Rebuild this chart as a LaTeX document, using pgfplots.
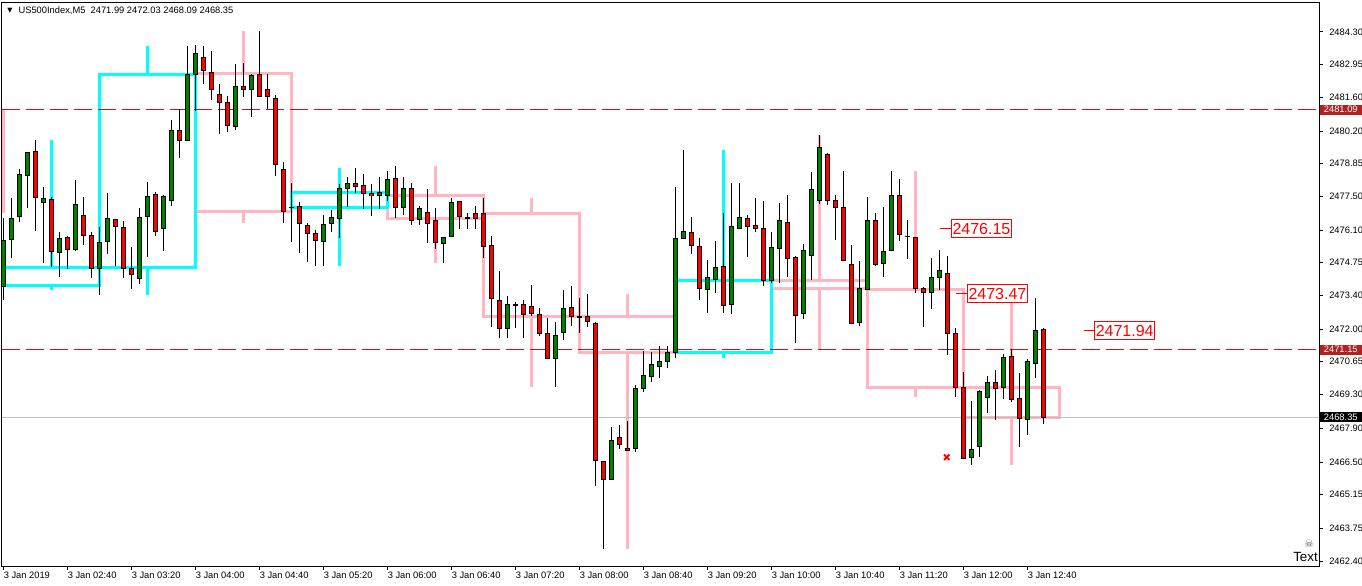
\documentclass[border=0pt]{standalone}
\usepackage{pgfplots}
\pgfplotsset{compat=1.18}
\usepackage{pgfplotstable}
\usepackage{fontspec}
\setmainfont{Liberation Sans}
\newfontfamily\dejavu{DejaVu Sans}
\definecolor{cgreen}{RGB}{0,128,0}
\definecolor{cred}{RGB}{255,0,0}
\definecolor{hcyan}{RGB}{0,255,255}
\definecolor{hpink}{RGB}{255,182,193}
\definecolor{tagred}{RGB}{178,34,34}
\definecolor{dashred}{RGB}{200,20,20}
\definecolor{bidgray}{RGB}{192,192,192}

\pgfplotstableread{
k O H L C
0 2473.79 2476.60 2473.21 2475.69
1 2475.72 2477.42 2474.93 2476.59
2 2476.66 2478.62 2476.45 2478.41
3 2478.37 2479.33 2477.03 2479.32
4 2479.38 2479.83 2476.08 2477.46
5 2477.25 2477.87 2474.75 2477.42
6 2477.39 2477.48 2474.59 2475.22
7 2475.18 2476.02 2474.17 2475.76
8 2475.80 2475.86 2474.50 2475.31
9 2475.31 2478.18 2475.25 2477.17
10 2476.71 2477.47 2475.48 2475.89
11 2475.89 2476.02 2474.13 2474.53
12 2474.52 2476.23 2473.43 2475.60
13 2475.64 2477.65 2475.12 2476.59
14 2476.55 2476.55 2474.62 2476.24
15 2476.22 2476.48 2474.13 2474.52
16 2474.52 2475.40 2473.68 2474.27
17 2474.11 2477.02 2473.87 2476.63
18 2476.67 2478.09 2475.00 2477.50
19 2477.58 2477.68 2475.87 2476.05
20 2476.16 2477.55 2475.25 2477.50
21 2477.32 2480.66 2477.11 2480.24
22 2480.24 2481.10 2479.10 2479.80
23 2479.80 2483.72 2479.80 2482.56
24 2482.55 2483.76 2481.04 2483.42
25 2483.25 2483.72 2482.14 2482.72
26 2482.63 2483.51 2481.49 2481.91
27 2481.72 2482.15 2480.09 2481.39
28 2481.39 2481.65 2480.17 2480.42
29 2480.40 2482.98 2480.24 2482.05
30 2482.05 2483.02 2481.62 2481.91
31 2481.95 2482.56 2480.79 2482.52
32 2482.56 2484.34 2481.66 2481.66
33 2481.93 2482.55 2481.13 2481.66
34 2481.56 2481.69 2478.35 2478.82
35 2478.62 2478.91 2476.41 2476.86
36 2477.04 2478.05 2475.62 2477.04
37 2477.09 2477.28 2475.14 2476.38
38 2476.30 2476.41 2474.77 2475.97
39 2475.97 2476.11 2474.62 2475.68
40 2475.64 2476.71 2474.62 2476.34
41 2476.38 2476.92 2476.02 2476.63
42 2476.59 2478.01 2475.76 2477.83
43 2477.83 2478.29 2477.04 2478.04
44 2478.04 2478.66 2477.65 2477.91
45 2477.96 2478.42 2476.99 2477.62
46 2477.62 2478.01 2476.70 2477.54
47 2477.54 2478.29 2476.96 2477.67
48 2477.54 2478.55 2477.32 2478.20
49 2478.24 2478.75 2476.60 2477.04
50 2477.04 2478.29 2476.73 2477.83
51 2477.83 2478.06 2476.32 2476.51
52 2476.55 2477.10 2476.32 2477.00
53 2476.84 2477.79 2475.58 2476.38
54 2476.51 2477.00 2475.31 2475.60
55 2475.55 2475.80 2474.75 2475.80
56 2475.84 2477.42 2475.80 2477.25
57 2477.29 2477.29 2476.13 2476.67
58 2476.63 2476.79 2476.13 2476.63
59 2476.79 2477.09 2476.13 2476.59
60 2476.79 2477.42 2474.96 2475.43
61 2475.47 2475.84 2472.10 2473.28
62 2473.20 2474.40 2471.62 2472.04
63 2472.04 2473.36 2471.62 2473.03
64 2473.03 2473.11 2472.04 2473.03
65 2473.03 2473.20 2471.62 2472.62
66 2472.95 2473.82 2472.53 2472.66
67 2472.62 2472.86 2471.71 2471.83
68 2471.83 2472.45 2470.80 2470.80
69 2470.80 2472.28 2469.62 2471.75
70 2471.87 2473.61 2471.54 2472.86
71 2472.90 2473.78 2472.12 2472.53
72 2472.52 2473.28 2471.83 2472.52
73 2472.53 2473.44 2472.08 2472.33
74 2472.24 2472.28 2465.52 2466.57
75 2466.53 2466.53 2462.89 2465.79
76 2465.79 2467.96 2465.79 2467.40
77 2467.52 2468.02 2467.03 2467.23
78 2467.07 2468.19 2466.99 2466.99
79 2467.07 2469.68 2466.93 2469.55
80 2469.55 2471.11 2469.39 2470.09
81 2470.05 2471.04 2469.80 2470.55
82 2470.46 2471.29 2469.97 2470.67
83 2470.67 2471.29 2470.38 2471.04
84 2471.04 2477.87 2470.80 2475.76
85 2475.76 2479.40 2475.76 2476.05
86 2476.01 2476.63 2475.12 2475.47
87 2475.43 2475.76 2473.22 2473.69
88 2473.65 2474.85 2472.66 2474.15
89 2474.06 2475.64 2473.49 2474.56
90 2474.60 2476.79 2472.66 2472.99
91 2473.03 2478.04 2472.62 2476.26
92 2476.18 2478.04 2476.18 2476.63
93 2476.59 2476.71 2474.97 2476.26
94 2476.30 2477.42 2476.01 2476.18
95 2476.18 2477.29 2473.78 2474.02
96 2474.02 2476.01 2473.92 2475.39
97 2475.35 2477.21 2473.92 2476.51
98 2476.42 2477.54 2474.15 2474.93
99 2474.97 2475.02 2471.41 2472.57
100 2472.66 2475.51 2472.41 2475.26
101 2475.06 2478.49 2474.02 2477.79
102 2477.33 2480.02 2477.18 2479.53
103 2479.24 2479.28 2477.13 2477.33
104 2477.33 2477.54 2475.68 2477.04
105 2477.04 2478.54 2474.81 2474.85
106 2474.69 2475.47 2472.24 2472.24
107 2472.28 2474.81 2472.12 2473.69
108 2473.65 2477.46 2473.65 2476.51
109 2476.51 2476.79 2474.60 2474.69
110 2474.73 2477.04 2474.15 2475.22
111 2475.26 2478.54 2475.26 2477.54
112 2477.54 2478.20 2475.64 2475.93
113 2475.86 2476.51 2474.89 2475.86
114 2475.80 2475.80 2473.49 2473.69
115 2473.68 2473.73 2472.10 2473.53
116 2473.53 2474.93 2472.82 2474.15
117 2474.15 2475.26 2473.61 2474.44
118 2474.31 2475.02 2470.92 2471.83
119 2471.83 2472.04 2469.18 2469.59
120 2469.59 2470.22 2466.68 2466.68
121 2466.70 2469.03 2466.38 2467.04
122 2467.13 2469.47 2466.72 2469.43
123 2469.18 2470.05 2468.54 2469.80
124 2469.80 2470.30 2468.25 2469.55
125 2469.59 2470.96 2469.10 2470.84
126 2470.88 2471.17 2468.99 2469.10
127 2469.14 2470.17 2467.13 2468.31
128 2468.27 2470.75 2467.63 2470.67
129 2470.59 2473.28 2469.97 2471.95
130 2471.99 2472.03 2468.09 2468.35
}\candles

\pgfplotsset{
  hbox/.style={line width=2.25pt},
  wick/.style={line width=2.25pt, unbounded coords=jump},
  ebars/.style={draw=none, mark=none, error bars/.cd, y dir=both, y explicit, error mark=none},
}

\begin{document}
\begin{tikzpicture}
\useasboundingbox (-1.5pt,-14.25pt) rectangle (1020pt,424.5pt);
\begin{axis}[
  at={(0pt,0pt)}, anchor=south west,
  x=6pt, y=18.12pt,
  xmin=-0.1875, xmax=164.4375, ymin=2462.197, ymax=2485.50,
  clip=false,
  axis line style={black, line width=0.75pt},
  xtick pos=left, ytick pos=right, yticklabel pos=right,
  tick align=outside, major tick length=3pt,
  tick style={black, line width=0.75pt},
  scaled y ticks=false, scaled x ticks=false,
  xtick={0,8,...,128},
  xticklabels={3 Jan 2019,3 Jan 02:40,3 Jan 03:20,3 Jan 04:00,3 Jan 04:40,3 Jan 05:20,3 Jan 06:00,3 Jan 06:40,3 Jan 07:20,3 Jan 08:00,3 Jan 08:40,3 Jan 09:20,3 Jan 10:00,3 Jan 10:40,3 Jan 11:20,3 Jan 12:00,3 Jan 12:40},
  ytick={2462.40,2463.75,2465.15,2466.50,2467.90,2469.30,2470.65,2472.00,2473.40,2474.75,2476.10,2477.50,2478.85,2480.20,2481.60,2482.95,2484.30},
  yticklabels={2462.40,2463.75,2465.15,2466.50,2467.90,2469.30,2470.65,2472.00,2473.40,2474.75,2476.10,2477.50,2478.85,2480.20,2481.60,2482.95,2484.30},
  ticklabel style={font=\fontsize{7}{8}\selectfont},
  xticklabel style={anchor=north west, inner sep=0pt, yshift=-1.2pt},
  yticklabel style={anchor=west, inner sep=0pt, xshift=4.5pt},
]
% ---- H1 overlay: previous hour edge (pink) at the left border
\addplot[hpink, line width=2pt] coordinates {(0,2481.09) (0,2476.80)};
% ---- H1 overlay: bearish hours (pink)
\addplot[hpink, hbox] coordinates {(30,2482.59) (36,2482.59) (36,2476.89) (24,2476.89) (24,2482.59) (30,2482.59)};
\addplot[hpink, wick] coordinates {(30,2484.34) (30,2482.59) (30,nan) (30,2476.89) (30,2476.41)};
\addplot[hpink, hbox] coordinates {(54,2477.54) (60,2477.54) (60,2476.59) (48,2476.59) (48,2477.54) (54,2477.54)};
\addplot[hpink, wick] coordinates {(54,2478.75) (54,2477.54) (54,nan) (54,2476.59) (54,2474.75)};
\addplot[hpink, hbox] coordinates {(66,2476.79) (72,2476.79) (72,2472.53) (60,2472.53) (60,2476.79) (66,2476.79)};
\addplot[hpink, wick] coordinates {(66,2477.42) (66,2476.79) (66,nan) (66,2472.53) (66,2469.62)};
\addplot[hpink, hbox] coordinates {(78,2472.52) (84,2472.52) (84,2471.04) (72,2471.04) (72,2472.52) (78,2472.52)};
\addplot[hpink, wick] coordinates {(78,2473.44) (78,2472.52) (78,nan) (78,2471.04) (78,2462.89)};
\addplot[hpink, hbox] coordinates {(102,2474.02) (108,2474.02) (108,2473.69) (96,2473.69) (96,2474.02) (102,2474.02)};
\addplot[hpink, wick] coordinates {(102,2480.02) (102,2474.02) (102,nan) (102,2473.69) (102,2471.13)};
\addplot[hpink, hbox] coordinates {(114,2473.65) (120,2473.65) (120,2469.59) (108,2469.59) (108,2473.65) (114,2473.65)};
\addplot[hpink, wick] coordinates {(114,2478.54) (114,2473.65) (114,nan) (114,2469.59) (114,2469.18)};
\addplot[hpink, hbox] coordinates {(126,2469.59) (132,2469.59) (132,2468.35) (120,2468.35) (120,2469.59) (126,2469.59)};
\addplot[hpink, wick] coordinates {(126,2473.28) (126,2469.59) (126,nan) (126,2468.35) (126,2466.38)};
% ---- H1 overlay: bullish hours (cyan)
\addplot[hcyan, hbox] coordinates {(6,2474.54) (12,2474.54) (12,2473.79) (0,2473.79) (0,2474.54) (6,2474.54)};
\addplot[hcyan, wick] coordinates {(6,2479.83) (6,2474.54) (6,nan) (6,2473.79) (6,2473.62)};
\addplot[hcyan, hbox] coordinates {(18,2482.56) (24,2482.56) (24,2474.54) (12,2474.54) (12,2482.56) (18,2482.56)};
\addplot[hcyan, wick] coordinates {(18,2483.72) (18,2482.56) (18,nan) (18,2474.54) (18,2473.41)};
\addplot[hcyan, hbox] coordinates {(42,2477.67) (48,2477.67) (48,2477.04) (36,2477.04) (36,2477.67) (42,2477.67)};
\addplot[hcyan, wick] coordinates {(42,2478.66) (42,2477.67) (42,nan) (42,2477.04) (42,2474.62)};
\addplot[hcyan, hbox] coordinates {(90,2474.02) (96,2474.02) (96,2471.04) (84,2471.04) (84,2474.02) (90,2474.02)};
\addplot[hcyan, wick] coordinates {(90,2479.40) (90,2474.02) (90,nan) (90,2471.04) (90,2470.80)};
% ---- horizontal lines
\addplot[color=dashred, draw=dashred, line width=1pt, dash pattern=on 13.5pt off 4.5pt] coordinates {(-0.1875,2481.09) (164.4375,2481.09)};
\addplot[color=dashred, draw=dashred, line width=1pt, dash pattern=on 13.5pt off 4.5pt] coordinates {(-0.1875,2471.15) (164.4375,2471.15)};
\addplot[draw=bidgray, line width=0.75pt] coordinates {(-0.1875,2468.35) (164.4375,2468.35)};
% ---- M5 candles: wicks
\addplot[ebars, error bar style={draw=black, line width=0.75pt}]
  table[x=k, y=O, y error plus expr={\thisrow{H}-\thisrow{O}}, y error minus expr={\thisrow{O}-\thisrow{L}}] {\candles};
% ---- bodies: black outline
\addplot[ebars, error bar style={draw=black, line width=3.75pt}]
  table[x=k, y expr={(\thisrow{O}+\thisrow{C})/2}, y error expr={abs(\thisrow{C}-\thisrow{O})/2+0.0207}] {\candles};
% ---- bodies: green fill (close above open)
\addplot[restrict expr to domain={\thisrow{C}-\thisrow{O}}{0.001:1000}, ebars, error bar style={draw=cgreen, line width=2.25pt}]
  table[x=k, y expr={(\thisrow{O}+\thisrow{C})/2}, y error expr={max(abs(\thisrow{C}-\thisrow{O})/2-0.0207,0)}] {\candles};
% ---- bodies: red fill (close below open)
\addplot[restrict expr to domain={\thisrow{O}-\thisrow{C}}{0.001:1000}, ebars, error bar style={draw=cred, line width=2.25pt}]
  table[x=k, y expr={(\thisrow{O}+\thisrow{C})/2}, y error expr={max(abs(\thisrow{C}-\thisrow{O})/2-0.0207,0)}] {\candles};
% ---- price labels
\addplot[cred, line width=0.75pt] coordinates {(117.06,2476.15) (118.4,2476.15)}
  node[pos=1, anchor=west, draw=cred, fill=white, text=cred, line width=0.75pt, inner xsep=1pt, inner ysep=0pt, minimum height=13.5pt, font=\fontsize{12}{12}\selectfont] {2476.15};
\addplot[cred, line width=0.75pt] coordinates {(119.06,2473.47) (120.4,2473.47)}
  node[pos=1, anchor=west, draw=cred, fill=white, text=cred, line width=0.75pt, inner xsep=1pt, inner ysep=0pt, minimum height=13.5pt, font=\fontsize{12}{12}\selectfont] {2473.47};
\addplot[cred, line width=0.75pt] coordinates {(135.06,2471.94) (136.3,2471.94)}
  node[pos=1, anchor=west, draw=cred, fill=white, text=cred, line width=0.75pt, inner xsep=1pt, inner ysep=0pt, minimum height=13.5pt, font=\fontsize{12}{12}\selectfont] {2471.94};
% ---- cross marker
\addplot[only marks, mark=x, cred, mark size=2.8pt, line width=1.5pt] coordinates {(117.9,2466.70)};
% ---- right axis price tags
\node[anchor=west, fill=tagred, text=white, inner sep=0pt, minimum height=7.5pt, minimum width=31.5pt, font=\fontsize{7}{8}\selectfont] at (axis cs:164.5,2481.09) {2481.09};
\node[anchor=west, fill=tagred, text=white, inner sep=0pt, minimum height=7.5pt, minimum width=31.5pt, font=\fontsize{7}{8}\selectfont] at (axis cs:164.5,2471.15) {2471.15};
\node[anchor=west, fill=black, text=white, inner sep=0pt, minimum height=7.5pt, minimum width=31.5pt, font=\fontsize{7}{8}\selectfont] at (axis cs:164.5,2468.35) {2468.35};
% ---- header
\node[inner sep=0pt, font=\dejavu\fontsize{5}{5}\selectfont] at (axis cs:0.81,2485.19) {▼};
\node[anchor=base west, inner sep=0pt, font=\fontsize{7}{8}\selectfont] at (axis cs:1.85,2485.045) {US500Index,M5\ \ 2471.99 2472.03 2468.09 2468.35};
% ---- bottom-right text
\node[inner sep=0pt, text=black!60, font=\dejavu\fontsize{8}{8}\selectfont] at (axis cs:163.2,2463.12) {☠};
\node[anchor=base east, inner sep=0pt, font=\fontsize{10}{10}\selectfont] at (axis cs:164.31,2462.40) {Text};
\end{axis}
\end{tikzpicture}
\end{document}
